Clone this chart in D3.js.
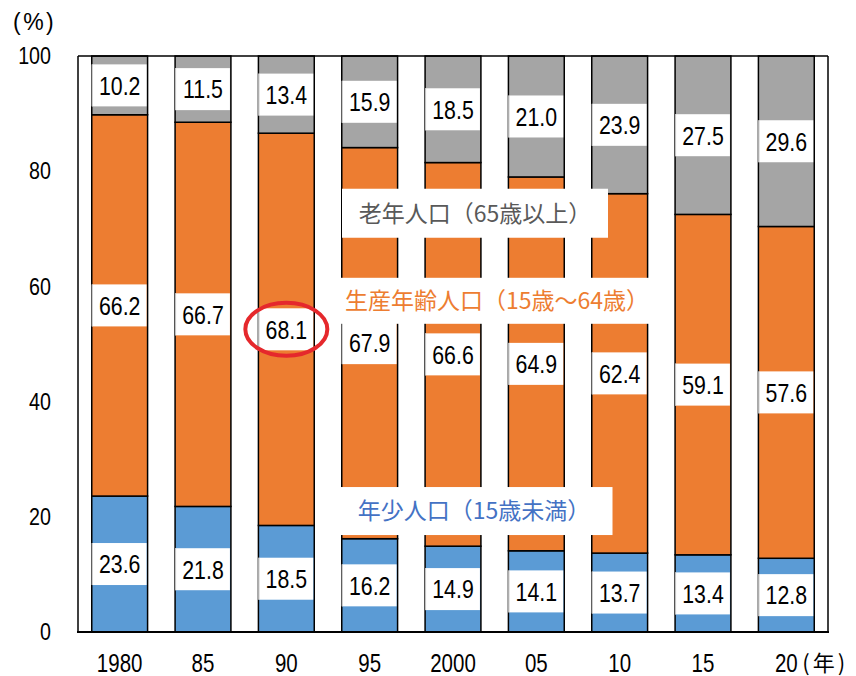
<!DOCTYPE html>
<html>
<head>
<meta charset="utf-8">
<script src="https://cdn.jsdelivr.net/npm/d3@7/dist/d3.min.js"></script>
<style>
  html, body { margin: 0; padding: 0; background: #fff; }
  svg { display: block; }
</style>
</head>
<body>
<svg id="chart" width="856" height="676"></svg>
<script>
// Population share by age group (%), census years
const years = ["1980", "85", "90", "95", "2000", "05", "10", "15", "20"];
const young = [23.6, 21.8, 18.5, 16.2, 14.9, 14.1, 13.7, 13.4, 12.8];     // under 15
const working = [66.2, 66.7, 68.1, 67.9, 66.6, 64.9, 62.4, 59.1, 57.6];   // 15-64
const elderly = [10.2, 11.5, 13.4, 15.9, 18.5, 21.0, 23.9, 27.5, 29.6];   // 65 and over
const yTicks = [0, 20, 40, 60, 80, 100];
const seriesKeys = ["young", "working", "elderly"];
const seriesNames = ["年少人口（15歳未満）", "生産年齢人口（15歳～64歳）", "老年人口（65歳以上）"];
const highlightYear = "90";

const colors = { young: "#5B9BD5", working: "#ED7D31", elderly: "#A5A5A5" };
const textColors = { young: "#4472C4", working: "#ED7D31", elderly: "#595959" };

const numFont = "'Liberation Sans', Arial, sans-serif";
const jpFont = "'Noto Sans CJK JP', 'Noto Sans', sans-serif";
const squeeze = 0.82;   // horizontal condensing for the numeric labels

const rows = years.map((y, i) => ({ year: y, young: young[i], working: working[i], elderly: elderly[i] }));

const svg = d3.select("#chart");
const plot = { left: 78, right: 828, top: 56, bottom: 632 };

const x = d3.scaleBand().domain(years).range([plot.left, plot.right])
  .paddingInner(0.33).paddingOuter(0.165);
const y = d3.scaleLinear().domain([0, 100]).range([plot.bottom, plot.top]);
const bw = x.bandwidth();

const stacked = d3.stack().keys(seriesKeys)(rows);

// stacked bars
const layers = svg.append("g").selectAll("g").data(stacked).join("g")
  .attr("fill", d => colors[d.key]);
layers.selectAll("rect").data(d => d).join("rect")
  .attr("x", d => x(d.data.year))
  .attr("y", d => y(d[1]))
  .attr("width", bw)
  .attr("height", d => y(d[0]) - y(d[1]))
  .attr("stroke", "#000")
  .attr("stroke-width", 1.5);

// value labels in white boxes, centred in each segment
const boxH = 42;
const labelData = [];
stacked.forEach(layer => layer.forEach(d => labelData.push({ key: layer.key, year: d.data.year, lo: d[0], hi: d[1], v: d.data[layer.key] })));
const lab = svg.append("g").selectAll("g").data(labelData).join("g")
  .attr("transform", d => `translate(${x(d.year)},${y((d.lo + d.hi) / 2)})`);
lab.append("rect")
  .attr("x", 0).attr("y", -boxH / 2).attr("width", bw - 1).attr("height", boxH)
  .attr("fill", "#fff");
lab.append("line")
  .attr("x1", 0.5).attr("x2", 0.5).attr("y1", -boxH / 2).attr("y2", boxH / 2)
  .attr("stroke", "#BFBFBF").attr("stroke-width", 1);
lab.append("text")
  .attr("transform", `translate(${bw / 2},0) scale(${squeeze},1)`)
  .attr("dy", "0.36em")
  .attr("text-anchor", "middle")
  .attr("font-family", numFont).attr("font-size", 26).attr("fill", "#000")
  .text(d => d.v.toFixed(1));

// frame around the plot area
const frame = svg.append("g").attr("fill", "none").attr("stroke", "#000");
frame.append("line").attr("x1", plot.left).attr("x2", plot.right).attr("y1", plot.top).attr("y2", plot.top).attr("stroke-width", 1.5);
frame.append("line").attr("x1", plot.right).attr("x2", plot.right).attr("y1", plot.top).attr("y2", plot.bottom).attr("stroke-width", 1.5);
frame.append("line").attr("x1", plot.left).attr("x2", plot.left).attr("y1", plot.top).attr("y2", plot.bottom).attr("stroke-width", 1.5);
frame.append("line").attr("x1", plot.left - 1).attr("x2", plot.right + 1).attr("y1", plot.bottom).attr("y2", plot.bottom).attr("stroke-width", 2.2);

// axes
const yAxis = svg.append("g").attr("transform", `translate(${plot.left},0)`)
  .call(d3.axisLeft(y).tickValues(yTicks).tickSize(0).tickPadding(27));
yAxis.select(".domain").remove();
yAxis.selectAll(".tick text")
  .attr("x", null)
  .attr("transform", `translate(-27,0) scale(${squeeze},1)`)
  .attr("font-family", numFont).attr("font-size", 24).attr("fill", "#000");

const xAxis = svg.append("g").attr("transform", `translate(0,${plot.bottom})`)
  .call(d3.axisBottom(x).tickSize(0).tickPadding(22));
xAxis.select(".domain").remove();
xAxis.selectAll(".tick text")
  .attr("transform", `scale(${squeeze},1)`)
  .attr("font-family", numFont).attr("font-size", 25).attr("fill", "#000");

// unit labels
svg.append("text").attr("x", 13).attr("y", 30)
  .attr("font-family", numFont).attr("font-size", 23).attr("letter-spacing", 2.5).attr("fill", "#000")
  .text("(%)");
svg.append("text").attr("x", x(years[years.length - 1]) + bw / 2 + 16).attr("y", 671)
  .attr("font-family", jpFont).attr("font-size", 22).attr("letter-spacing", 3).attr("fill", "#000")
  .text("(年)");

// series name annotations in white boxes
const notes = [
  { key: "elderly", cx: 475, cy: 72.7, boxW: 266, boxH: 49 },
  { key: "working", cx: 497, cy: 57.5, boxW: 327, boxH: 46 },
  { key: "young", cx: 474, cy: 21.0, boxW: 277, boxH: 48 }
];
const note = svg.append("g").selectAll("g").data(notes).join("g")
  .attr("transform", d => `translate(${d.cx},${y(d.cy)})`);
note.append("rect")
  .attr("x", d => -d.boxW / 2).attr("y", d => -d.boxH / 2)
  .attr("width", d => d.boxW).attr("height", d => d.boxH)
  .attr("fill", "#fff");
note.append("text")
  .attr("text-anchor", "middle").attr("dy", "0.36em")
  .attr("font-family", jpFont).attr("font-size", 23)
  .attr("fill", d => textColors[d.key])
  .text(d => seriesNames[seriesKeys.indexOf(d.key)]);

// red ellipse around the working-age share of the highlighted year
const hi = stacked[1].find(d => d.data.year === highlightYear);
svg.append("ellipse")
  .attr("cx", x(highlightYear) + bw / 2)
  .attr("cy", y((hi[0] + hi[1]) / 2))
  .attr("rx", 41).attr("ry", 26.5)
  .attr("fill", "none").attr("stroke", "#E5282C").attr("stroke-width", 4);
</script>
</body>
</html>
